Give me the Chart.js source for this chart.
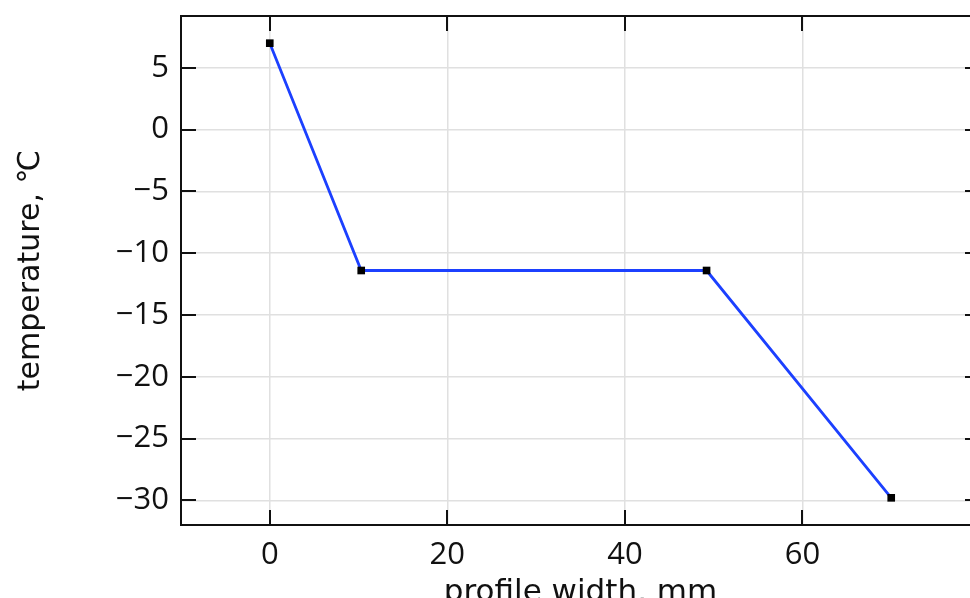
<!DOCTYPE html>
<html lang="en">
<head>
    <meta charset="UTF-8">
    <title>Temperature profile</title>
    <script src="https://cdn.jsdelivr.net/npm/chart.js"></script>
    <style>
        body { margin: 0; padding: 0; background: #fff; overflow: hidden; }
        canvas { display: block; }
    </style>
</head>
<body>
    <canvas id="profileChart" width="990" height="612"></canvas>

    <script>
        // data
        const widthMm = [0, 10.3, 49.2, 70];
        const temperatureC = [7, -11.4, -11.4, -29.8];
        const xTickValues = [0, 20, 40, 60];
        const yTickValues = [5, 0, -5, -10, -15, -20, -25, -30];

        const tickFont = { family: 'Open Sans', size: 31 };
        const axisColor = '#111';

        // COMSOL style: ticks point inward on all four sides, frame on top/right too
        const frameAndTicks = {
            id: 'frameAndTicks',
            afterDraw(chart) {
                const { ctx, chartArea: a, scales } = chart;
                const len = 15;
                ctx.save();
                ctx.strokeStyle = axisColor;
                ctx.lineWidth = 2;
                ctx.beginPath();
                ctx.moveTo(a.left, a.top);
                ctx.lineTo(a.right, a.top);
                ctx.lineTo(a.right, a.bottom);
                xTickValues.forEach(v => {
                    const px = Math.round(scales.x.getPixelForValue(v));
                    ctx.moveTo(px, a.bottom); ctx.lineTo(px, a.bottom - len);
                    ctx.moveTo(px, a.top); ctx.lineTo(px, a.top + len);
                });
                yTickValues.forEach(v => {
                    const py = Math.round(scales.y.getPixelForValue(v));
                    ctx.moveTo(a.left, py); ctx.lineTo(a.left + len, py);
                    ctx.moveTo(a.right, py); ctx.lineTo(a.right - len, py);
                });
                ctx.stroke();
                ctx.restore();
            }
        };

        const noEdgePadding = s => {
            s.paddingTop = 0; s.paddingBottom = 0;
            s.paddingLeft = 0; s.paddingRight = 0;
        };

        const ctx = document.getElementById('profileChart').getContext('2d');
        const chart = new Chart(ctx, {
            type: 'line',
            data: {
                datasets: [{
                    data: widthMm.map((x, i) => ({ x: x, y: temperatureC[i] })),
                    borderColor: '#1c40ff',
                    borderWidth: 2.8,
                    pointStyle: 'rect',
                    pointRadius: 5.4,
                    pointBackgroundColor: '#000',
                    pointBorderColor: '#000',
                    pointBorderWidth: 0,
                    tension: 0,
                    fill: false
                }]
            },
            options: {
                responsive: false,
                animation: false,
                layout: { padding: { top: 16, right: 10, left: 0, bottom: 0 } },
                plugins: { legend: { display: false }, tooltip: { enabled: false } },
                scales: {
                    x: {
                        type: 'linear',
                        min: -10,
                        max: 80,
                        afterBuildTicks: s => { s.ticks = xTickValues.map(v => ({ value: v })); },
                        afterFit: s => { s.height = 87; noEdgePadding(s); },
                        grid: { color: '#e0e0e0', lineWidth: 1.5, drawTicks: false },
                        border: { color: axisColor, width: 2 },
                        ticks: { font: tickFont, color: axisColor, padding: 12, maxRotation: 0 },
                        title: {
                            display: true,
                            text: 'profile width, mm',
                            font: { family: 'DejaVu Sans', size: 31 },
                            color: axisColor,
                            padding: { top: 0, bottom: 0 }
                        }
                    },
                    y: {
                        type: 'linear',
                        min: -32,
                        max: 9.2,
                        afterBuildTicks: s => { s.ticks = yTickValues.map(v => ({ value: v })); },
                        afterFit: s => { s.width = 181; noEdgePadding(s); },
                        grid: { color: '#e0e0e0', lineWidth: 1.5, drawTicks: false },
                        border: { color: axisColor, width: 2 },
                        ticks: {
                            font: tickFont,
                            color: axisColor,
                            padding: 12,
                            callback: v => String(v).replace('-', '\u2212')
                        },
                        title: {
                            display: true,
                            text: 'temperature, \u2103',
                            font: { family: 'DejaVu Sans', size: 30 },
                            color: axisColor,
                            padding: { top: 13, bottom: 0 }
                        }
                    }
                }
            },
            plugins: [frameAndTicks]
        });
    </script>
</body>
</html>
